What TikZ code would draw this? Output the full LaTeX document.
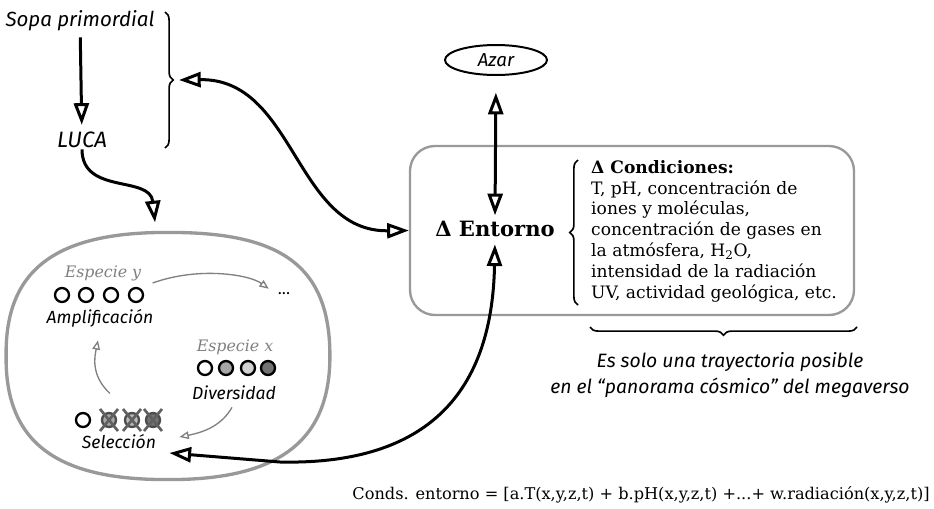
\documentclass[tikz,border=0pt]{standalone}
\usepackage{fontspec}
\setmainfont{DejaVu Serif}
\newfontfamily\handfont{Fira Sans}
\usepackage{tikz}
\usetikzlibrary{arrows.meta,positioning,shapes.geometric,decorations.pathreplacing,calc}

\begin{document}
\begin{tikzpicture}[
    x=0.3mm, y=-0.3mm,
    hand/.style={font=\handfont\itshape\fontsize{15}{19}\selectfont, inner sep=1pt},
    species/.style={font=\itshape\fontsize{13.5}{15}\selectfont, text=gray, inner sep=1pt},
    arrow/.style={-{Triangle[open,length=6.5mm,width=4.5mm]}, line width=0.9mm, black},
    twoway/.style={{Triangle[open,length=6.5mm,width=4.5mm]}-{Triangle[open,length=6.5mm,width=4.5mm]}, line width=0.9mm, black},
    thin/.style={-{Triangle[open,length=2.8mm,width=2.3mm]}, line width=0.4mm, gray},
    dot/.style={circle, draw=black, line width=0.7mm, minimum size=4.2mm, inner sep=0pt},
    cross/.style={gray!75!black, line width=0.8mm},
    curly/.style={decorate, decoration={brace, amplitude=7pt}, line width=0.5mm}
]
\useasboundingbox (0,0) rectangle (934,508);

% origen
\node[hand, font=\handfont\itshape\fontsize{17.5}{21}\selectfont] (sopa) at (80,21) {Sopa primordial};
\node[hand, font=\handfont\itshape\fontsize{19}{21}\selectfont] (luca) at (82,140) {LUCA};
\draw[arrow, shorten <=4pt, shorten >=5pt] (sopa) -- (luca);
\draw[curly] (165,12) -- (165,148);
\coordinate (bracetip) at (179,80);

% ciclo
\node[minimum width=97mm, minimum height=74mm] (cycle) at (168,356) {};
\draw[gray!80, line width=1mm] (cycle.north) .. controls (280,232) and (330,265) .. (cycle.east)
    .. controls (330,440) and (280,480) .. (cycle.south)
    .. controls (60,480) and (5,445) .. (cycle.west)
    .. controls (5,270) and (55,232) .. cycle;
\draw[arrow] (luca.south) .. controls (82,195) and (150,175) .. ($(cycle.north)+(-13,-10)$);

\node[species] (especiey) at (103,273) {Especie y};
\foreach \i/\x in {1/62,2/86,3/111,4/136}
    \node[dot] (y\i) at (\x,295) {};
\node[hand] (ampl) at (100,318) {Amplificación};
\node[font=\bfseries] (dots) at (284,294) {...};
\draw[thin] ($(especiey.east)+(10,10)$) .. controls (200,266) and (250,275) .. ($(dots.north west)+(-5,0)$);

\node[species] (especiex) at (235,347) {Especie x};
\node[dot] (x1) at (205,368) {};
\node[dot, fill=gray!70] (x2) at (226,368) {};
\node[dot, fill=gray!35] (x3) at (248,368) {};
\node[dot, fill=gray!90!black] (x4) at (268,368) {};
\node[hand] (diver) at (234,393) {Diversidad};

\node[dot] (s1) at (83,420) {};
\node[dot, fill=gray!70, draw=gray!60!black] (s2) at (109,420) {};
\node[dot, fill=gray!55, draw=gray!60!black] (s3) at (132,420) {};
\node[dot, fill=gray!90!black, draw=gray!60!black] (s4) at (153,420) {};
\foreach \i in {2,3,4}
    \draw[cross] (s\i) ++(-9,-11) -- ++(18,22) (s\i) ++(9,-11) -- ++(-18,22);
\node[hand] (selec) at (119,442) {Selección};

\draw[thin] ($(diver.south)+(-2,6)$) .. controls (222,425) and (205,432) .. ($(selec.east)+(22,-5)$);
\draw[thin] ($(selec.north)+(-9,-40)$) .. controls (90,375) and (95,355) .. ($(ampl.south)+(-2,12)$);

% entorno
\node[draw=gray!80, line width=0.7mm, rounded corners=7.5mm, minimum width=133.2mm, minimum height=50.7mm] (box) at (632,230.5) {};
\node[font=\bfseries\fontsize{18}{21}\selectfont, inner sep=2pt] (entorno) at (495,229) {Δ Entorno};
\node[anchor=north west, align=left, inner sep=0pt, font=\fontsize{14.6}{17.8}\selectfont] (cond) at (591,160)
    {\textbf{Δ Condiciones:}\\T, pH, concentración de\\iones y  moléculas,\\concentración de gases en\\la atmósfera, H\textsubscript{2}O,\\intensidad de la radiación\\UV, actividad geológica, etc.};
\draw[curly] (578,305) -- (578,160);
\draw[curly] (857,327) -- (590,327);

\node[hand, font=\handfont\itshape\fontsize{16}{19}\selectfont, ellipse, draw, line width=0.6mm, minimum width=30.6mm, minimum height=9mm] (azar) at (496,60) {Azar};

\draw[twoway, shorten <=5mm, shorten >=1mm] (azar.south) -- (entorno.north);
\draw[twoway] (bracetip) .. controls (295,78) and (295,232) .. (box.west);
\draw[twoway, shorten <=1.5mm] (entorno.south) .. controls (492,400) and (420,465) .. (280,462) -- ($(selec.east)+(12,11)$);

\node[hand, font=\handfont\itshape\fontsize{16.5}{22}\selectfont, align=center] (trayect) at (730,375) {Es solo una trayectoria posible\\en el “panorama cósmico” del megaverso};
\node[font=\fontsize{13.8}{16}\selectfont] (formula) at (641,495) {Conds. entorno = [a.T(x,y,z,t) + b.pH(x,y,z,t) +...+ w.radiación(x,y,z,t)]};

\end{tikzpicture}
\end{document}
